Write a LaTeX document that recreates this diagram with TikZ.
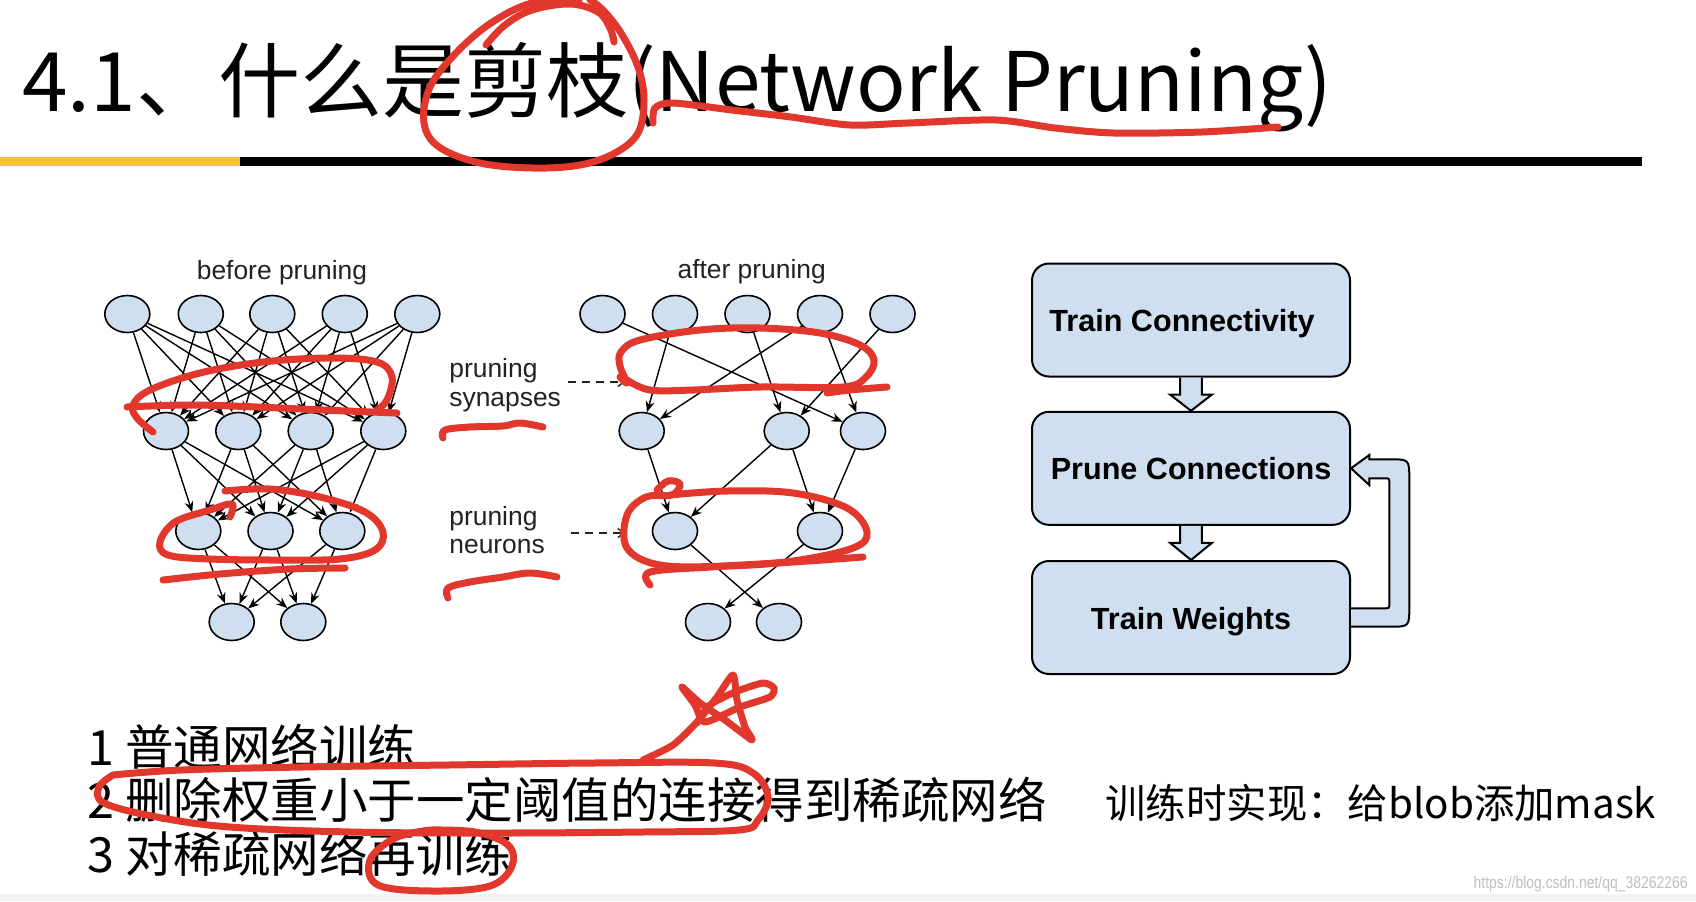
\documentclass[tikz,border=0pt]{standalone}
\usepackage{fontspec}
\setmainfont{Liberation Sans}
\newfontfamily\cjk{Noto Sans CJK SC}
\usetikzlibrary{arrows.meta,calc,shapes.geometric}
\definecolor{nodefill}{HTML}{CFDFF0}
\definecolor{pen}{HTML}{E2372C}
\definecolor{barY}{HTML}{F7BD3C}
\definecolor{lbl}{HTML}{222222}
\begin{document}
\begin{tikzpicture}[x=0.5pt,y=-0.5pt,
  neuron/.style={ellipse,draw=black,fill=nodefill,minimum width=22.5pt,minimum height=18.5pt,inner sep=0pt,line width=0.8pt},
  syn/.style={-{Stealth[length=5.5pt,width=4.4pt]},line width=0.7pt},
  dasharrow/.style={-{Straight Barb[length=3pt,width=4.5pt]},dashed,dash pattern=on 4pt off 3pt,line width=0.7pt,draw=lbl},
  netlabel/.style={font=\fontsize{13.2}{13.2}\selectfont,text=lbl,inner sep=0pt},
  flowbox/.style={draw=black,fill=nodefill,rounded corners=8.5pt,line width=1pt,minimum width=159pt,minimum height=56.5pt,inner sep=0pt,font=\bfseries\fontsize{15.3}{15.3}\selectfont},
  blockar/.style={draw=black,fill=nodefill,line width=1pt,line join=miter},
  redpen/.style={draw=pen,line width=3.5pt,line cap=round,line join=round},
  cjkline/.style={anchor=base west,inner sep=0pt,font=\cjk\fontsize{24.25}{24.25}\selectfont}
]
\useasboundingbox (0,0) rectangle (1696,901);
\fill[white] (0,0) rectangle (1696,901);
\fill[black!5] (0,894) rectangle (1696,901);

% title
\node[anchor=base west,inner sep=0pt,font=\cjk\fontsize{41}{41}\selectfont] (title) at (22,111) {4.1、什么是剪枝(Network Pruning)};
\fill[barY] (0,157) rectangle (240,166);
\fill[black] (240,157) rectangle (1642,166);

% ---------- before pruning ----------
\node[netlabel,anchor=base] (tbefore) at (282,279) {before pruning};
\foreach \i/\x in {1/127.3,2/200.8,3/272.3,4/344.8,5/417.3} \node[neuron] (a\i) at (\x,314) {};
\foreach \i/\x in {1/166,2/238.3,3/310.7,4/383.3} \node[neuron] (b\i) at (\x,431) {};
\foreach \i/\x in {1/198.3,2/270.5,3/342.3} \node[neuron] (c\i) at (\x,531) {};
\foreach \i/\x in {1/231.7,2/303.3} \node[neuron] (d\i) at (\x,622) {};
\foreach \i in {1,...,5} \foreach \j in {1,...,4} \draw[syn] (a\i) -- (b\j);
\foreach \i in {1,...,4} \foreach \j in {1,...,3} \draw[syn] (b\i) -- (c\j);
\foreach \i in {1,...,3} \foreach \j in {1,2} \draw[syn] (c\i) -- (d\j);

% ---------- after pruning ----------
\node[netlabel,anchor=base] (tafter) at (751.7,278) {after pruning};
\foreach \i/\x in {1/602.5,2/675,3/747.5,4/820,5/892.5} \node[neuron] (p\i) at (\x,314) {};
\foreach \i/\x in {1/641.7,3/786.7,4/863} \node[neuron] (q\i) at (\x,431) {};
\foreach \i/\x in {1/675,3/820} \node[neuron] (r\i) at (\x,531) {};
\foreach \i/\x in {1/708,2/779} \node[neuron] (s\i) at (\x,622) {};
\foreach \u/\v in {p1/q4,p2/q1,p3/q3,p4/q1,p4/q4,p5/q3,q1/r1,q3/r1,q3/r3,q4/r3,r1/s2,r3/s1} \draw[syn] (\u) -- (\v);

% ---------- middle labels ----------
\node[netlabel,anchor=base west] (ps1) at (449,377) {pruning};
\node[netlabel,anchor=base west] (ps2) at (449,406) {synapses};
\node[netlabel,anchor=base west] (pn1) at (449,525) {pruning};
\node[netlabel,anchor=base west] (pn2) at (449,553) {neurons};
\coordinate (d1s) at (568,382);
\coordinate (d1e) at (625,382);
\coordinate (d2s) at (571,533);
\coordinate (d2e) at (625,533);
\draw[dasharrow] (d1s) -- (d1e);
\draw[dasharrow] (d2s) -- (d2e);

% ---------- flow chart ----------
\coordinate (fc1) at (1191,320);
\coordinate (fc2) at (1191,468.3);
\coordinate (fc3) at (1191,617.5);
\path (fc1) node[flowbox] (f1) {\raisebox{-2pt}[\height][\depth]{Train Connectivity}\hspace*{9pt}};
\path (fc2) node[flowbox] (f2) {Prune Connections};
\path (fc3) node[flowbox] (f3) {\raisebox{-2.3pt}[\height][\depth]{Train Weights}};
% block arrows
\foreach \a/\b in {f1/f2,f2/f3}{
  \filldraw[blockar] ($(\a.south)+(-10.8,0)$) -- ($(\a.south)+(-10.8,17)$) -- ($(\a.south)+(-21,17)$)
     -- (\b.north) -- ($(\a.south)+(21,17)$) -- ($(\a.south)+(10.8,17)$) -- ($(\a.south)+(10.8,0)$);
}
% loop arrow
\filldraw[blockar] ($(f3.east)+(0,-9.2)$) -- ($(f3.east)+(33.3,-9.2)$)
   .. controls ($(f3.east)+(38.3,-9.2)$) .. ($(f3.east)+(38.3,-14.2)$)
   -- ($(f2.east)+(38.3,15)$)
   .. controls ($(f2.east)+(38.3,10)$) .. ($(f2.east)+(33.3,10)$)
   -- ($(f2.east)+(18.3,10)$) -- ($(f2.east)+(18.3,16.7)$) -- (f2.east)
   -- ($(f2.east)+(18.3,-13.3)$) -- ($(f2.east)+(18.3,-9)$)
   -- ($(f2.east)+(38.3,-9)$)
   .. controls ($(f2.east)+(58.3,-9)$) .. ($(f2.east)+(58.3,11)$)
   -- ($(f3.east)+(58.3,-10.8)$)
   .. controls ($(f3.east)+(58.3,9.2)$) .. ($(f3.east)+(38.3,9.2)$)
   -- ($(f3.east)+(0,9.2)$);

% ---------- bottom text ----------
\node[cjkline] (l1) at (87,765) {1 普通网络训练};
\node[cjkline] (l2) at (87,818.5) {2 删除权重小于一定阈值的连接得到稀疏网络};
\node[cjkline] (l3) at (87,872) {3 对稀疏网络再训练};
\node[anchor=base west,inner sep=0pt,font=\cjk\fontsize{20.2}{20.2}\selectfont] (impl) at (1105,818) {训练时实现：给blob添加mask};
\node[anchor=base east,inner sep=0pt,text=black!25,font=\fontsize{8.5}{8.5}\selectfont] (wm) at (1688,888) {\scalebox{0.82}[1]{https://blog.csdn.net/qq\_38262266}};

% ---------- red annotations ----------
\draw[redpen] plot[smooth,tension=0.6] coordinates {(579,0) (532,3) (491,23) (456,53) (430,87) (424,123) (439,147) (480,163) (533,168) (580,165) (615,153) (638,133) (644,100) (638,67) (621,33) (603,10) (590,0)};
\draw[redpen] plot[smooth,tension=0.6] coordinates {(486,45) (505,25) (532,10) (570,4) (598,12) (610,28) (614,42)};
\draw[redpen] plot[smooth,tension=0.5] coordinates {(653,123) (655,108) (673,103) (732,110) (791,117) (850,125) (908,123) (996,120) (1055,128) (1114,133) (1202,132) (1278,127)};
\draw[redpen] plot[smooth,tension=0.6] coordinates {(153,432) (137,418) (133,405) (150,390) (200,373) (263,362) (330,358) (377,362) (392,377) (387,400) (377,410)};
\draw[redpen] plot[smooth,tension=0.6] coordinates {(127,407) (190,405) (257,407) (323,410) (397,413)};
\draw[redpen] plot[smooth,tension=0.6] coordinates {(230,517) (232,504) (210,510) (175,522) (160,542) (168,555) (210,559) (280,560) (340,559) (375,550) (383,532) (365,512) (320,497) (270,489) (225,491)};
\draw[redpen] plot[smooth,tension=0.6] coordinates {(163,580) (220,574) (290,569) (345,568)};
\draw[redpen] plot[smooth,tension=0.6] coordinates {(620,377) (627,383) (620,366) (621,352) (640,340) (700,330) (760,328) (820,333) (860,345) (874,360) (866,377) (843,387) (760,387) (693,390) (650,390) (627,380)};
\draw[redpen] plot[smooth,tension=0.6] coordinates {(827,393) (850,390) (887,387)};
\draw[redpen] plot[smooth,tension=0.6] coordinates {(657,490) (668,481) (680,484) (672,495) (646,497) (627,515) (627,548) (660,565) (727,566) (793,561) (853,548) (867,532) (847,508) (793,493) (727,491) (670,495)};
\draw[redpen] plot[smooth,tension=0.6] coordinates {(650,585) (650,572) (710,567) (793,562) (863,557)};
\draw[redpen] plot[smooth,tension=0.6] coordinates {(443,438) (445,430) (470,427) (503,426) (520,423) (543,427)};
\draw[redpen] plot[smooth,tension=0.6] coordinates {(448,598) (448,588) (470,582) (503,577) (530,573) (557,577)};
\draw[redpen] plot[smooth,tension=0.4] coordinates {(643,760) (673,745) (697,722) (717,697) (733,675) (737,700) (745,727) (752,740) (725,720) (700,703) (682,687) (695,705) (705,722) (740,707) (770,697) (774,688) (763,683) (735,692) (710,705) (697,723)};
\draw[redpen] plot[smooth,tension=0.6] coordinates {(113,775) (181,770) (302,767) (448,765) (593,763) (714,763) (753,773) (768,797) (758,820) (739,830) (642,832) (496,833) (351,832) (230,827) (157,817) (104,803) (99,787) (113,775)};
\draw[redpen] plot[smooth,tension=0.6] coordinates {(430,830) (395,838) (370,860) (378,885) (433,891) (490,886) (512,866) (508,845) (475,832) (430,830)};
\end{tikzpicture}
\end{document}
